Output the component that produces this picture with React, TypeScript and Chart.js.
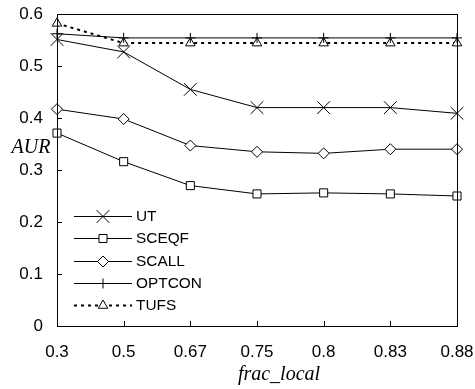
import React, { useEffect, useRef } from "react";
import { Chart, registerables } from "chart.js";
import { drawPoint } from "chart.js/helpers";

Chart.register(...registerables);

const categories = ["0.3", "0.5", "0.67", "0.75", "0.8", "0.83", "0.88"];
const utValues = [0.551, 0.527, 0.455, 0.42, 0.42, 0.42, 0.409];
const sceqfValues = [0.371, 0.316, 0.27, 0.254, 0.256, 0.254, 0.25];
const scallValues = [0.417, 0.398, 0.347, 0.335, 0.332, 0.34, 0.34];
const optconValues = [0.562, 0.554, 0.554, 0.554, 0.554, 0.554, 0.554];
const tufsValues = [0.582, 0.544, 0.544, 0.544, 0.544, 0.544, 0.544];
const yTickValues = [0, 0.1, 0.2, 0.3, 0.4, 0.5, 0.6];
const xTitle = "frac_local";
const yTitle = "AUR";

const SANS = "'Liberation Sans', Arial, sans-serif";
const SERIF = "'Liberation Serif', 'Times New Roman', serif";

const decorPlugin = {
  id: "decor",
  afterDatasetsDraw(chart: any) {
    const { ctx, chartArea, scales } = chart;
    const { left, right, top, bottom } = chartArea;
    ctx.save();
    ctx.strokeStyle = "#000";
    ctx.lineWidth = 1;
    ctx.setLineDash([]);
    ctx.strokeRect(Math.round(left) + 0.5, Math.round(top) + 0.5, Math.round(right - left), Math.round(bottom - top));
    const xs = scales.x;
    for (let i = 1; i < categories.length - 1; i++) {
      const px = Math.round(xs.getPixelForValue(i)) + 0.5;
      ctx.beginPath();
      ctx.moveTo(px, bottom);
      ctx.lineTo(px, bottom - 5);
      ctx.stroke();
    }
    const ys = scales.y;
    for (let i = 1; i < yTickValues.length - 1; i++) {
      const py = Math.round(ys.getPixelForValue(yTickValues[i])) + 0.5;
      ctx.beginPath();
      ctx.moveTo(left, py);
      ctx.lineTo(left + 5, py);
      ctx.stroke();
    }
    chart.data.datasets.forEach((ds: any, i: number) => {
      const y = Math.round(216 + i * 22.25) + 0.5;
      ctx.save();
      ctx.strokeStyle = "#000";
      ctx.lineWidth = ds.borderWidth;
      ctx.setLineDash(ds.borderDash || []);
      ctx.beginPath();
      ctx.moveTo(74, y);
      ctx.lineTo(132, y);
      ctx.stroke();
      ctx.setLineDash([]);
      ctx.lineWidth = 1;
      ctx.fillStyle = "#fff";
      drawPoint(ctx, { pointStyle: ds.pointStyle, radius: ds.pointRadius, rotation: 0, borderWidth: 1 }, 103, y);
      ctx.restore();
      ctx.fillStyle = "#000";
      ctx.font = `15.4px ${SANS}`;
      ctx.textBaseline = "middle";
      ctx.textAlign = "left";
      ctx.fillText(ds.label, 136, y + 0.5);
    });
    ctx.fillStyle = "#000";
    ctx.font = `italic 20px ${SERIF}`;
    ctx.textAlign = "center";
    ctx.textBaseline = "middle";
    ctx.fillText(yTitle, 31, 148);
    ctx.fillText(xTitle, 279, 375);
    ctx.restore();
  },
};

export default function App() {
  const ref = useRef<HTMLCanvasElement | null>(null);
  useEffect(() => {
    if (!ref.current) return;
    const mk = (label: string, data: number[], style: string, radius: number, extra: any = {}) => ({
      label,
      data,
      borderColor: "#000",
      borderWidth: 1,
      pointStyle: style,
      pointRadius: radius,
      pointBackgroundColor: "#fff",
      pointBorderColor: "#000",
      pointBorderWidth: 1,
      tension: 0,
      fill: false,
      clip: false,
      ...extra,
    });
    const chart = new Chart(ref.current, {
      type: "line",
      data: {
        labels: categories,
        datasets: [
          mk("UT", utValues, "crossRot", 9),
          mk("SCEQF", sceqfValues, "rect", 5.7),
          mk("SCALL", scallValues, "rectRot", 5.5),
          mk("OPTCON", optconValues, "cross", 5),
          mk("TUFS", tufsValues, "triangle", 5.5, { borderWidth: 2, borderDash: [3, 4] }),
        ],
      },
      options: {
        responsive: true,
        maintainAspectRatio: false,
        animation: false,
        layout: { padding: { top: 14, right: 18, left: 0, bottom: 0 } },
        plugins: { legend: { display: false }, tooltip: { enabled: false }, title: { display: false } },
        scales: {
          x: {
            type: "category",
            offset: false,
            grid: { display: false, drawTicks: false },
            border: { display: true, color: "#000", width: 1 },
            ticks: { color: "#000", font: { family: SANS, size: 17 }, padding: 16, maxRotation: 0, autoSkip: false },
            afterFit: (s: any) => {
              s.height = 63;
              s.paddingLeft = 0;
              s.paddingRight = 0;
            },
          },
          y: {
            min: 0,
            max: 0.6,
            grid: { display: false, drawTicks: false },
            border: { display: true, color: "#000", width: 1 },
            afterBuildTicks: (s: any) => { s.ticks = yTickValues.map((v) => ({ value: v })); },
            ticks: {
              color: "#000",
              font: { family: SANS, size: 17 },
              padding: 14,
              callback: (v: any) => String(Math.round(Number(v) * 10) / 10),
            },
            afterFit: (s: any) => {
              s.width = 57;
              s.paddingTop = 0;
              s.paddingBottom = 0;
            },
          },
        },
      },
      plugins: [decorPlugin],
    } as any);
    return () => chart.destroy();
  }, []);
  return (
    <div style={{ position: "absolute", left: 0, top: 0, width: 475, height: 389, background: "#fff" }}>
      <canvas ref={ref} />
    </div>
  );
}
